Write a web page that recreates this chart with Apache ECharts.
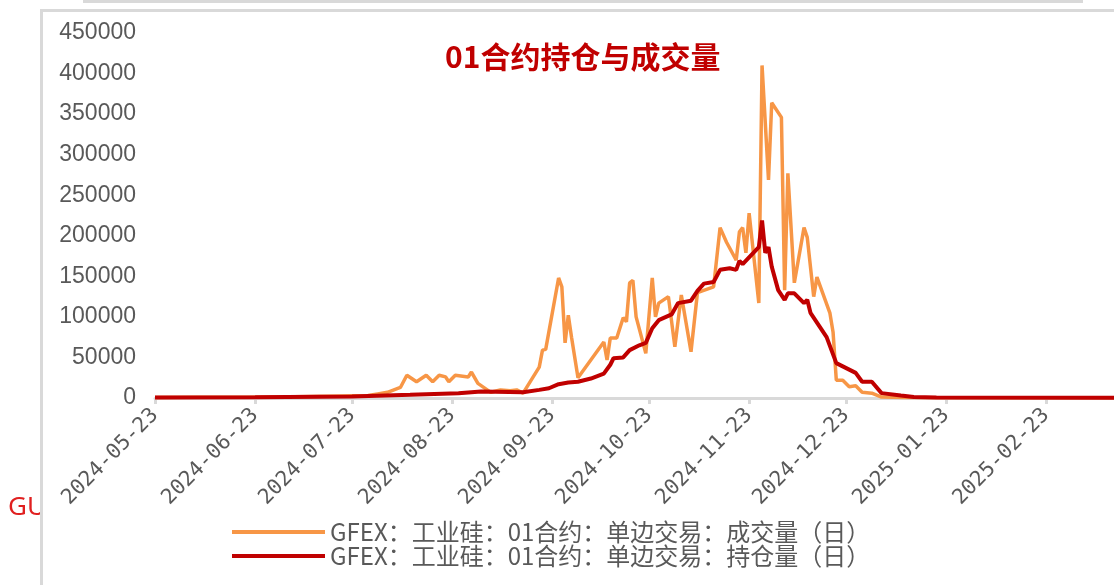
<!DOCTYPE html>
<html>
<head>
<meta charset="utf-8">
<title>01合约持仓与成交量</title>
<script src="https://cdn.jsdelivr.net/npm/echarts@6/dist/echarts.min.js"></script>
<style>
  html, body { margin: 0; padding: 0; background: #fff; }
  #chart { width: 1114px; height: 585px; }
</style>
</head>
<body>
<div id="chart"></div>
<script>
const volDates = [
  "2024-05-23", "2024-06-05", "2024-06-20", "2024-07-05", "2024-07-20", "2024-07-28", "2024-07-31",
  "2024-08-03", "2024-08-07", "2024-08-09", "2024-08-12", "2024-08-15", "2024-08-17", "2024-08-19",
  "2024-08-21", "2024-08-22", "2024-08-24", "2024-08-28", "2024-08-29", "2024-08-31", "2024-09-04",
  "2024-09-07", "2024-09-10", "2024-09-12", "2024-09-14", "2024-09-19", "2024-09-20", "2024-09-21",
  "2024-09-25", "2024-09-26", "2024-09-27", "2024-09-28", "2024-09-29", "2024-10-01", "2024-10-09",
  "2024-10-10", "2024-10-11", "2024-10-13", "2024-10-15", "2024-10-16", "2024-10-17", "2024-10-18",
  "2024-10-19", "2024-10-22", "2024-10-24", "2024-10-25", "2024-10-26", "2024-10-29", "2024-10-31",
  "2024-11-02", "2024-11-05", "2024-11-07", "2024-11-12", "2024-11-14", "2024-11-16", "2024-11-19",
  "2024-11-20", "2024-11-21", "2024-11-22", "2024-11-23", "2024-11-26", "2024-11-27", "2024-11-29",
  "2024-11-30", "2024-12-03", "2024-12-04", "2024-12-05", "2024-12-07", "2024-12-10", "2024-12-11",
  "2024-12-13", "2024-12-14", "2024-12-18", "2024-12-19", "2024-12-20", "2024-12-22", "2024-12-24",
  "2024-12-26", "2024-12-28", "2024-12-31", "2025-01-03", "2025-01-10", "2025-02-01", "2025-03-16"
]
const volValues = [
  500, 800, 1000, 1500, 2500, 3000, 5000,
  7000, 13000, 28000, 20000, 28000, 20000, 28000,
  26000, 20000, 28000, 26000, 32000, 18000, 7000,
  10000, 9000, 10000, 6000, 38000, 59000, 60000,
  148000, 137000, 68000, 102000, 75000, 25000, 69000,
  47000, 74000, 74000, 99000, 94000, 142000, 145000,
  100000, 55000, 148000, 100000, 117000, 125000, 63000,
  127000, 57000, 130000, 137000, 210000, 192000, 170000,
  205000, 210000, 179000, 228000, 117000, 410000, 269000,
  364000, 346000, 133000, 277000, 142000, 210000, 198000,
  125000, 149000, 105000, 81000, 22000, 22000, 14000,
  15000, 7000, 6000, 1200, 500, 300, 200
]

const oiDates = [
  "2024-05-23", "2024-06-23", "2024-07-23", "2024-08-10", "2024-08-25", "2024-09-01", "2024-09-14",
  "2024-09-19", "2024-09-22", "2024-09-25", "2024-09-28", "2024-10-01", "2024-10-05", "2024-10-09",
  "2024-10-11", "2024-10-12", "2024-10-15", "2024-10-17", "2024-10-20", "2024-10-22", "2024-10-24",
  "2024-10-26", "2024-10-30", "2024-11-01", "2024-11-05", "2024-11-07", "2024-11-09", "2024-11-12",
  "2024-11-14", "2024-11-17", "2024-11-19", "2024-11-20", "2024-11-21", "2024-11-26", "2024-11-27",
  "2024-11-28", "2024-11-29", "2024-11-30", "2024-12-02", "2024-12-04", "2024-12-05", "2024-12-07",
  "2024-12-10", "2024-12-11", "2024-12-12", "2024-12-17", "2024-12-20", "2024-12-24", "2024-12-26",
  "2024-12-28", "2024-12-31", "2025-01-03", "2025-01-09", "2025-01-13", "2025-01-20", "2025-03-16"
]
const oiValues = [
  500, 1000, 2000, 4000, 6000, 8000, 7000,
  10000, 12000, 17000, 19000, 20000, 24000, 30000,
  41000, 49000, 50000, 59000, 65000, 68000, 86000,
  96000, 103000, 117000, 120000, 132000, 141000, 143000,
  158000, 160000, 158000, 169000, 165000, 186000, 219000,
  179000, 186000, 162000, 133000, 121000, 129000, 129000,
  117000, 121000, 105000, 75000, 43000, 35000, 31000,
  20000, 20000, 6000, 3000, 1200, 500, 300
]

const tickDates = [
  "2024-05-23", "2024-06-23", "2024-07-23", "2024-08-23", "2024-09-23",
  "2024-10-23", "2024-11-23", "2024-12-23", "2025-01-23", "2025-02-23"
]
const xMin = "2024-05-23"
const xMax = "2025-03-16"

const volName = "GFEX：工业硅：01合约：单边交易：成交量（日）"
const oiName = "GFEX：工业硅：01合约：单边交易：持仓量（日）"

function ts(s) {
  const p = s.split("-").map(Number)
  return new Date(p[0], p[1] - 1, p[2]).getTime()
}

function fmt(v) {
  const d = new Date(v)
  const pad = n => (n < 10 ? "0" : "") + n
  return d.getFullYear() + "-" + pad(d.getMonth() + 1) + "-" + pad(d.getDate())
}

function pairs(dates, values) {
  return dates.map((d, i) => [ts(d), values[i]])
}

const tickValues = tickDates.map(ts)
const gray = "#595959"
const frame = "#d9d9d9"

const chart = echarts.init(document.getElementById("chart"))

chart.setOption({
  animation: false,
  title: {
    text: "01合约持仓与成交量",
    left: 440,
    top: 37,
    textStyle: {
      color: "#c00000",
      fontSize: 30,
      fontWeight: "bold",
      fontFamily: "Noto Sans CJK SC"
    }
  },
  legend: {
    orient: "vertical",
    left: 227,
    top: 515,
    itemWidth: 93,
    itemHeight: 4,
    itemGap: 0,
    icon: "rect",
    textStyle: {
      color: gray,
      fontSize: 24,
      lineHeight: 23,
      fontFamily: "Noto Sans CJK SC"
    },
    data: [volName, oiName]
  },
  grid: {
    left: 155,
    right: 0,
    top: 33,
    bottom: 187
  },
  xAxis: {
    type: "value",
    min: ts(xMin),
    max: ts(xMax),
    splitLine: { show: false },
    axisLine: { lineStyle: { color: frame, width: 3 } },
    axisTick: {
      show: true,
      customValues: tickValues,
      length: 6,
      lineStyle: { color: frame, width: 3 }
    },
    axisLabel: {
      customValues: tickValues,
      rotate: 45,
      margin: 14,
      color: gray,
      fontSize: 21,
      fontFamily: "DejaVu Sans Mono",
      formatter: fmt
    }
  },
  yAxis: {
    type: "value",
    min: 0,
    max: 450000,
    interval: 50000,
    axisLine: { show: false },
    axisTick: { show: false },
    splitLine: { show: false },
    axisLabel: {
      margin: 19,
      color: gray,
      fontSize: 23,
      fontFamily: "Liberation Sans",
      formatter: v => String(v)
    }
  },
  graphic: [
    { type: "rect", shape: { x: 83, y: 0, width: 1000, height: 3 }, style: { fill: frame } },
    { type: "rect", shape: { x: 40, y: 9, width: 1074, height: 3 }, style: { fill: frame } },
    {
      type: "text",
      x: 8,
      y: 495,
      style: { text: "GU", fill: "#e02020", fontSize: 26, fontFamily: "Noto Sans" }
    },
    { type: "rect", shape: { x: 43, y: 490, width: 20, height: 40 }, style: { fill: "#fff" } },
    { type: "rect", shape: { x: 40, y: 9, width: 3, height: 576 }, style: { fill: frame } }
  ],
  series: [
    {
      name: volName,
      type: "line",
      data: pairs(volDates, volValues),
      showSymbol: false,
      lineStyle: { color: "#f79646", width: 3.5 },
      itemStyle: { color: "#f79646" }
    },
    {
      name: oiName,
      type: "line",
      data: pairs(oiDates, oiValues),
      showSymbol: false,
      lineStyle: { color: "#c00000", width: 4 },
      itemStyle: { color: "#c00000" }
    }
  ]
})
</script>
</body>
</html>
